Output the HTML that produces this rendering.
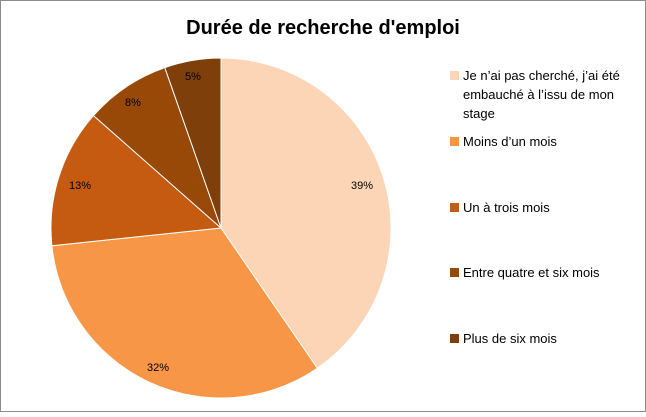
<!DOCTYPE html>
<html><head><style>
body{margin:0;background:#fff}
svg text{font-family:"Liberation Sans",Calibri,sans-serif}
</style></head><body>
<svg width="646" height="412" xmlns="http://www.w3.org/2000/svg">
<rect x="0.5" y="0.5" width="645" height="411" fill="#fff" stroke="#8c8c8c"/>
<text x="323" y="34" font-size="20" font-weight="bold" text-anchor="middle" fill="#000">Durée de recherche d'emploi</text>
<g stroke="#fff" stroke-width="1">
<path d="M221,228 L221,58 A170,170 0 0,1 317.3,368.1 Z" fill="#FBD5B5"/>
<path d="M221,228 L317.3,368.1 A170,170 0 0,1 51.9,245.8 Z" fill="#F79646"/>
<path d="M221,228 L51.9,245.8 A170,170 0 0,1 93.5,115.6 Z" fill="#C55A11"/>
<path d="M221,228 L93.5,115.6 A170,170 0 0,1 164.8,67.6 Z" fill="#984807"/>
<path d="M221,228 L164.8,67.6 A170,170 0 0,1 221,58 Z" fill="#7F3F0A"/>
</g>
<g font-size="11" fill="#000" text-anchor="middle">
<text x="362" y="189">39%</text>
<text x="158" y="371">32%</text>
<text x="80" y="189">13%</text>
<text x="133" y="106">8%</text>
<text x="193" y="80">5%</text>
</g>
<g font-size="13" fill="#000">
<rect x="450" y="71" width="9" height="9" fill="#FBD5B5"/>
<text x="463" y="80">Je n’ai pas cherché, j’ai été</text>
<text x="463" y="99">embauché à l’issu de mon</text>
<text x="463" y="118">stage</text>
<rect x="450" y="137" width="9" height="9" fill="#F79646"/>
<text x="463" y="146">Moins d’un mois</text>
<rect x="450" y="203" width="9" height="9" fill="#C55A11"/>
<text x="463" y="212">Un à trois mois</text>
<rect x="450" y="268" width="9" height="9" fill="#984807"/>
<text x="463" y="277">Entre quatre et six mois</text>
<rect x="450" y="334" width="9" height="9" fill="#7F3F0A"/>
<text x="463" y="343">Plus de six mois</text>
</g>
</svg>
</body></html>
